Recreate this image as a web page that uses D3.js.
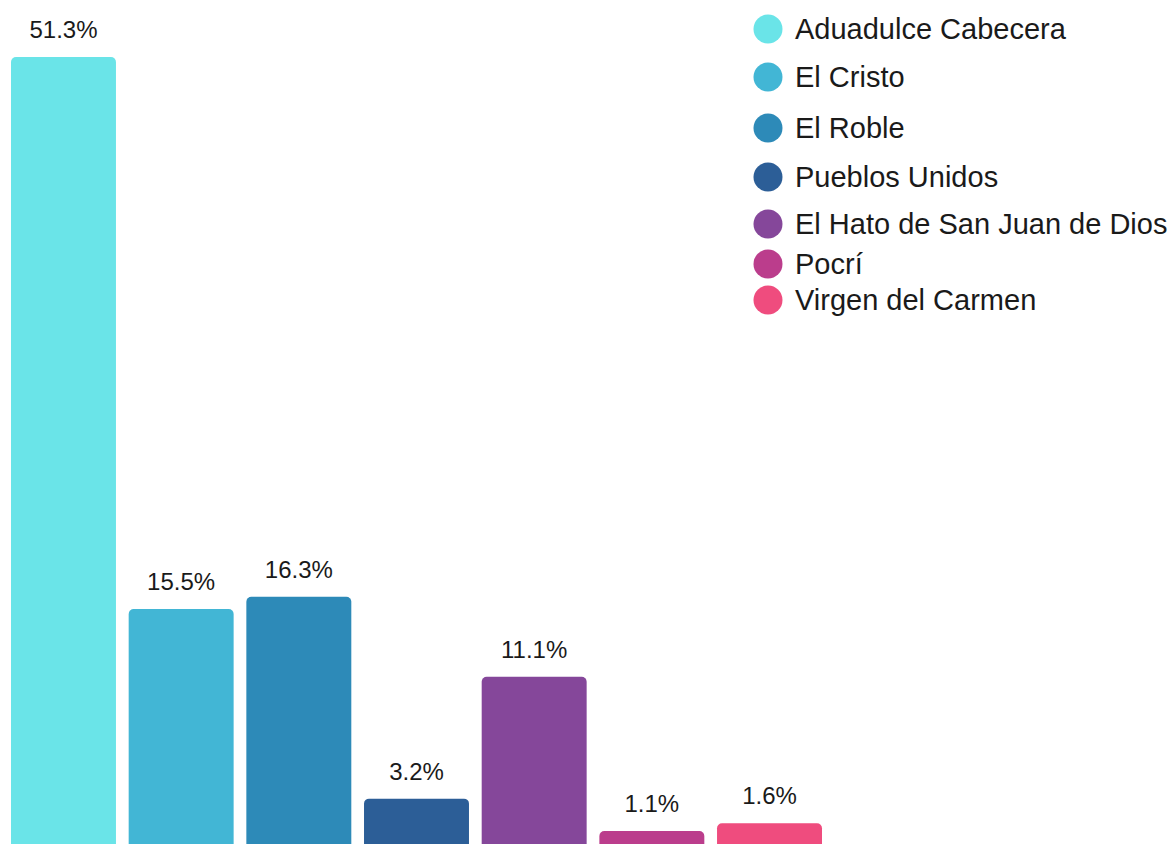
<!DOCTYPE html>
<html lang="es">
<head>
  <meta charset="UTF-8">
  <title>Corregimientos - bar chart</title>
  <script src="https://cdn.jsdelivr.net/npm/d3@7/dist/d3.min.js"></script>
  <style>
    body { margin: 0; background: #fff; }
    text { font-family: "Liberation Sans", Arial, sans-serif; fill: #1a1a1a; }
  </style>
</head>
<body>
<script>
  var categories = ['Aduadulce Cabecera', 'El Cristo', 'El Roble', 'Pueblos Unidos',
                    'El Hato de San Juan de Dios', 'Pocrí', 'Virgen del Carmen'];
  var values = [51.3, 15.5, 16.3, 3.2, 11.1, 1.1, 1.6];
  var labels = ['51.3%', '15.5%', '16.3%', '3.2%', '11.1%', '1.1%', '1.6%'];
  var colors = ['#6ae4e8', '#42b6d5', '#2d8ab8', '#2c5e97', '#85479a', '#bb3d8c', '#ef4c7e'];
  // legend rows are not evenly spaced in the original
  var legendY = [29, 77, 128, 177, 224, 264, 300];

  var W = 1171, H = 844;
  var svg = d3.select('body').append('svg')
    .attr('width', W)
    .attr('height', H);

  var x = d3.scaleBand()
    .domain(categories)
    .range([11, 822])
    .paddingInner(0.108)
    .paddingOuter(0);

  var y = d3.scaleLinear()
    .domain([0, 51.3])
    .range([848, 57]);

  var color = d3.scaleOrdinal().domain(categories).range(colors);

  var data = categories.map(function(c, i) {
    return { name: c, v: values[i], label: labels[i] };
  });

  // bars (bottom runs past the edge of the picture)
  svg.selectAll('rect.bar')
    .data(data)
    .enter()
    .append('rect')
    .attr('class', 'bar')
    .attr('x', function(d) { return x(d.name); })
    .attr('y', function(d) { return y(d.v); })
    .attr('width', x.bandwidth())
    .attr('height', function(d) { return y(0) - y(d.v) + 20; })
    .attr('rx', 5)
    .attr('fill', function(d) { return color(d.name); });

  svg.selectAll('text.val')
    .data(data)
    .enter()
    .append('text')
    .attr('class', 'val')
    .attr('x', function(d) { return x(d.name) + x.bandwidth() / 2; })
    .attr('y', function(d) { return y(d.v) - 19; })
    .attr('text-anchor', 'middle')
    .style('font-size', '24px')
    .text(function(d) { return d.label; });

  // legend
  var lg = svg.selectAll('g.legend')
    .data(data)
    .enter()
    .append('g')
    .attr('class', 'legend')
    .attr('transform', function(d, i) { return 'translate(768,' + legendY[i] + ')'; });

  lg.append('circle')
    .attr('r', 14.5)
    .attr('fill', function(d) { return color(d.name); });

  lg.append('text')
    .attr('x', 27)
    .attr('y', 10)
    .style('font-size', '29px')
    .text(function(d) { return d.name; });
</script>
</body>
</html>
